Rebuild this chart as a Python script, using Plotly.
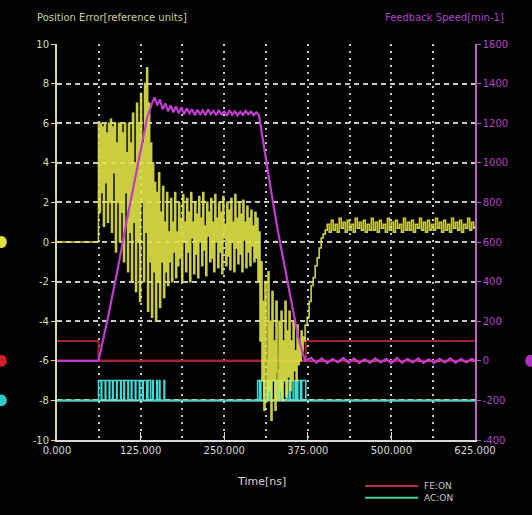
import plotly.graph_objects as go

# ---------------- data ----------------
X_TICKS = [0, 125, 250, 375, 500, 625]
X_TICK_TEXT = ["0.000", "125.000", "250.000", "375.000", "500.000", "625.000"]
Y_TICKS = [10, 8, 6, 4, 2, 0, -2, -4, -6, -8, -10]
Y2_TICKS = [1600, 1400, 1200, 1000, 800, 600, 400, 200, 0, -200, -400]
LEGEND_NAMES = ["FE:ON", "AC:ON"]

# Position error [reference units] (time in ns)
T_ERR = [0, 61,
         62, 63.5, 65, 66.5, 68, 69.5, 71, 72.5, 74, 75.5, 77, 78.5, 80, 81.5, 83, 84.5, 86, 87.5,
         89, 90.5, 92, 93.5, 95, 96.5, 98, 99.5, 101, 102.5, 104, 105.5, 107, 108.5, 110, 111.5,
         113, 114.5, 116, 117.5, 119, 120.5, 122, 123.5, 125, 126.5, 128, 129.5, 131, 132.5, 134,
         135.5, 137, 138.5, 140, 141.5, 143, 144.5, 146, 147.5, 149, 150.5, 152, 153.5, 155, 156.5,
         158, 159.5, 161, 162.5, 164, 165.5, 167, 168.5, 170, 171.5, 173, 174.5, 176, 177.5, 179,
         180.5, 182, 183.5, 185, 186.5, 188, 189.5, 191, 192.5, 194, 195.5, 197, 198.5, 200, 201.5,
         203, 204.5, 206, 207.5, 209, 210.5, 212, 213.5, 215, 216.5, 218, 219.5, 221, 222.5, 224,
         225.5, 227, 228.5, 230, 231.5, 233, 234.5, 236, 237.5, 239, 240.5, 242, 243.5, 245, 246.5,
         248, 249.5, 251, 252.5, 254, 255.5, 257, 258.5, 260, 261.5, 263, 264.5, 266, 267.5, 269,
         270.5, 272, 273.5, 275, 276.5, 278, 279.5, 281, 282.5, 284, 285.5, 287, 288.5, 290, 291.5,
         293, 294.5, 296, 297.5, 299,
         300.5, 302, 303.5, 305, 306.5, 308, 309.5, 311, 312.5, 314, 315.5, 317, 318.5, 320, 321.5,
         323, 324.5, 326, 327.5, 329, 330.5, 332, 333.5, 335, 336.5, 338, 339.5, 341, 342.5, 344,
         345.5, 347, 348.5, 350, 351.5, 353, 354.5, 356, 357.5, 359, 360.5, 362, 363.5, 365, 366.5,
         368, 369.5,
         371, 374, 377, 380, 383, 386, 389, 392, 395, 398, 401,
         404, 407, 410, 413, 416, 419, 422, 425, 428, 431, 434, 437, 440, 443, 446, 449, 452, 455,
         458, 461, 464, 467, 470, 473, 476, 479, 482, 485, 488, 491, 494, 497, 500, 503, 506, 509,
         512, 515, 518, 521, 524, 527, 530, 533, 536, 539, 542, 545, 548, 551, 554, 557, 560, 563,
         566, 569, 572, 575, 578, 581, 584, 587, 590, 593, 596, 599, 602, 605, 608, 611, 614, 617,
         620, 623, 625]
V_ERR = [0, 0,
         6, 1.5, 6, 2.5, 5.8, 0.8, 6, 3, 5.5, 1, 6, 2, 6.2, 0.5, 5.8, 3.5, 6, -0.5,
         5, 2, 6, 0, 6, 1.5, 5.5, -1, 6, 2.5, 4.5, -1.5, 6, 0.5, 5, -2,
         6.5, 1, 4, -2.5, 7, 0, 6, -3, 7.5, 2, 5, -2, 8, 0.5, 8.8,
         -3.5, 7, -1, 5, -3.8, 4, -1.5, 3, -4, 2.5, -2, 3.5, -3.3, 1.5, -1,
         2.8, -2.8, 1, -1.5, 2.5, -2.2, 0.5, -1, 2.2, -2, 1, -0.5, 2.5, -1.8, 0.5,
         -1.2, 2, -0.8, 1.2, -2, 2.4, 0, 1, -1.5, 2.2, -0.5, 1.5, -2, 2.5, 0.2,
         1, -1.6, 2, -0.6, 1.4, -1.8, 2.3, 0, 1.2, -1.2, 2.5, -0.4, 0.8, -1.7, 2,
         0.3, 1.5, -1, 2.2, -0.8, 1, -1.5, 2.4, 0, 1.2, -1.3, 2, -0.5, 1.5, -1.6,
         2.3, 0.2, 0.9, -1.2, 2, -0.7, 1.6, -1.4, 2.2, 0, 1, -1.5, 2.4, -0.3, 1.2,
         -1.1, 2, -0.6, 1.4, -1.5, 2.1, 0.1, 1, -1.3, 1.8, -0.5, 1.2, -1.2, 1.6, -0.2,
         0.8, -1, 1.5, -0.8, 1.2,
         -2, 0.5, -5, -1, -7, -3, -8.5, -2, -6, -8, -1.5, -7.5, -4, -9, -2.5,
         -7, -5, -8.5, -3, -6.5, -8, -4, -7.5, -3.5, -8, -5, -7, -3, -7.8, -4.5,
         -6.8, -3.5, -7.5, -5, -7, -4, -6.5, -5.5, -7, -4.2, -6.2, -5.2, -6, -4.5, -5.5,
         -4.8, -5,
         -4.2, -3.8, -3, -2.2, -1.8, -1.2, -0.8, -0.3, 0.2, 0.4, 0.6,
         0.9, 0.5, 1.1, 0.6, 0.9, 0.5, 1.2, 0.7, 1, 0.5, 1.1, 0.6, 0.9, 0.5, 1.2, 0.7, 1, 0.6,
         1.1, 0.5, 0.9, 0.6, 1.2, 0.6, 1, 0.5, 1.1, 0.7, 0.9, 0.5, 1.2, 0.6, 1, 0.5, 1.1, 0.7,
         0.9, 0.5, 1.2, 0.6, 1, 0.6, 1.1, 0.5, 0.9, 0.7, 1.2, 0.6, 1, 0.5, 1.1, 0.6, 0.9, 0.6,
         1.2, 0.7, 1, 0.5, 1.1, 0.6, 0.9, 0.5, 1.2, 0.7, 1, 0.6, 1.1, 0.5, 0.9, 0.7, 1.2, 0.6,
         1, 0.7, 0.8]

# Feedback speed [min-1]
T_SPD = [0, 62, 75, 90, 105, 120, 135, 142,
         146, 150, 154, 158, 162, 166, 170, 174, 178, 182, 186, 190, 194, 198, 202, 206, 210,
         214, 218, 222, 226, 230, 234, 238, 242, 246, 250, 254, 258, 262, 266, 270, 274, 278,
         282, 286, 290, 294, 298, 302,
         310, 320, 330, 340, 350, 360, 368, 372,
         380, 388, 396, 404, 412, 420, 428, 436, 444, 452, 460, 468, 476, 484, 492, 500, 508,
         516, 524, 532, 540, 548, 556, 564, 572, 580, 588, 596, 604, 612, 620, 625]
V_SPD = [0, 0, 200, 450, 720, 980, 1230, 1300,
         1330, 1290, 1320, 1270, 1300, 1260, 1290, 1255, 1285, 1250, 1280, 1245, 1275, 1250, 1270, 1240, 1268,
         1245, 1265, 1240, 1270, 1245, 1262, 1240, 1266, 1244, 1260, 1238, 1265, 1242, 1260, 1240, 1258, 1242,
         1262, 1245, 1258, 1240, 1255, 1240,
         1060, 860, 660, 480, 300, 130, 30, 0,
         15, -10, 12, -12, 10, -8, 14, -10, 12, -12, 8, -10, 12, -8, 10, -12, 14,
         -10, 10, -8, 12, -10, 8, -12, 10, -8, 12, -10, 10, -8, 10, 0]

# Red digital signal (level -5 = ON, -6 = OFF)
T_FE = [0, 62, 372, 625]
V_FE = [-5, -6, -5, -5]

# Cyan digital signal (level -7 = ON, -8 = OFF)
T_AC = [0, 62, 66, 67, 72, 73, 78, 79, 83, 84, 89, 90, 95, 96, 100, 101, 106, 107, 111, 112,
        117, 118, 123, 124, 128, 129, 134, 136, 140, 143, 144, 149, 150, 153, 154, 160, 161,
        300, 303, 305, 309, 310, 314, 316, 318, 320, 326, 328, 330, 333, 335, 337, 343, 344,
        347, 349, 353, 356, 358, 360, 364, 366, 372, 373, 625]
V_AC = [-8, -7, -8, -7, -8, -7, -8, -7, -8, -7, -8, -7, -8, -7, -8, -7, -8, -7, -8, -7,
        -8, -7, -8, -7, -8, -7, -8, -7, -8, -7, -8, -7, -8, -7, -8, -7, -8,
        -7, -8, -7, -8, -7, -8, -7, -8, -7, -8, -7, -8, -7, -8, -7, -8, -7,
        -8, -7, -8, -7, -8, -7, -8, -7, -8, -8, -8]

FE_BASE = -6
AC_BASE = -8

# ---------------- figure ----------------
YELLOW = "#e2e448"
MAGENTA = "#c03cd0"
RED = "#c8202e"
CYAN = "#40dcd8"
LEG_RED = "#c03040"
LEG_CYAN = "#48d0a8"
GRID = "#c8c8c8"

fig = go.Figure()

fig.add_trace(go.Scatter(x=[0, 625], y=[AC_BASE, AC_BASE], mode="lines",
                         line=dict(color="#a8e0c8", width=2), showlegend=False, hoverinfo="skip"))
fig.add_trace(go.Scatter(x=[0, 625], y=[FE_BASE, FE_BASE], mode="lines",
                         line=dict(color=RED, width=2), showlegend=False, hoverinfo="skip"))
fig.add_trace(go.Scatter(x=T_AC, y=V_AC, mode="lines", line=dict(color=CYAN, width=1.5, shape="hv"),
                         showlegend=False))
fig.add_trace(go.Scatter(x=T_FE, y=V_FE, mode="lines", line=dict(color="#a82030", width=2, shape="hv"),
                         showlegend=False))
fig.add_trace(go.Scatter(x=T_SPD, y=V_SPD, mode="lines", yaxis="y2",
                         line=dict(color=MAGENTA, width=2.2), showlegend=False))
fig.add_trace(go.Scatter(x=T_ERR, y=V_ERR, mode="lines",
                         line=dict(color=YELLOW, width=1.6, shape="hv"), opacity=0.9, showlegend=False))

FONT = "DejaVu Sans"

fig.update_layout(
    width=532, height=515,
    margin=dict(l=57, r=57, t=44, b=75),
    paper_bgcolor="black", plot_bgcolor="black",
    font=dict(family=FONT, size=10, color="#d0d0d0"),
    showlegend=False,
    xaxis=dict(range=[0, 625], tickvals=X_TICKS, ticktext=X_TICK_TEXT,
               showgrid=True, gridcolor=GRID, griddash="2px,5px", gridwidth=1.5,
               minor=dict(dtick=62.5, tick0=0, showgrid=True, gridcolor=GRID, griddash="2px,5px",
                          gridwidth=1.5),
               showline=True, linecolor="#d8d8d8", linewidth=2,
               ticks="inside", ticklen=8, tickcolor="#d8d8d8", tickwidth=1,
               tickfont=dict(size=10, color="#d8d8d8"), zeroline=False, fixedrange=True),
    yaxis=dict(range=[-10, 10], tickvals=Y_TICKS, ticktext=[str(v) for v in Y_TICKS],
               showgrid=True, gridcolor=GRID, griddash="5px,4px", gridwidth=1.5,
               showline=True, linecolor="#d4d8a0", linewidth=2,
               ticks="outside", ticklen=4, tickcolor="#d4d8a0",
               tickfont=dict(size=10, color="#d8dcb0"), zeroline=False, fixedrange=True),
    yaxis2=dict(range=[-400, 1600], tickvals=Y2_TICKS, ticktext=[str(v) for v in Y2_TICKS],
                overlaying="y", side="right", showgrid=False, zeroline=False,
                showline=True, linecolor="#b868c0", linewidth=1.5,
                ticks="outside", ticklen=4, tickcolor="#b050c0",
                tickfont=dict(size=10, color="#b844c8"), fixedrange=True),
    annotations=[
        dict(text="Position Error[reference units]", xref="paper", yref="paper",
             x=-0.053, y=1.068, xanchor="left", yanchor="middle", showarrow=False,
             font=dict(size=10, color="#c8d490", family=FONT)),
        dict(text="Feedback Speed[min-1]", xref="paper", yref="paper",
             x=1.074, y=1.068, xanchor="right", yanchor="middle", showarrow=False,
             font=dict(size=10, color="#b040c8", family=FONT)),
        dict(text="Time[ns]", xref="paper", yref="paper",
             x=0.49, y=-0.106, xanchor="center", yanchor="middle", showarrow=False,
             font=dict(size=11, color="#d8d8d8", family=FONT)),
        dict(text=LEGEND_NAMES[0], xref="paper", yref="paper",
             x=0.873, y=-0.116, xanchor="left", yanchor="middle", showarrow=False,
             font=dict(size=9, color="#c8c8c8", family=FONT)),
        dict(text=LEGEND_NAMES[1], xref="paper", yref="paper",
             x=0.873, y=-0.146, xanchor="left", yanchor="middle", showarrow=False,
             font=dict(size=9, color="#c8c8c8", family=FONT)),
    ],
    shapes=[
        dict(type="line", xref="paper", yref="paper", x0=0.737, x1=0.864, y0=-0.116, y1=-0.116,
             line=dict(color=LEG_RED, width=2)),
        dict(type="line", xref="paper", yref="paper", x0=0.737, x1=0.864, y0=-0.146, y1=-0.146,
             line=dict(color=LEG_CYAN, width=2)),
        dict(type="circle", xref="paper", yref="y", x0=-0.145, x1=-0.12, y0=-0.3, y1=0.3,
             fillcolor="#e0e040", line=dict(width=0)),
        dict(type="circle", xref="paper", yref="y", x0=-0.145, x1=-0.12, y0=-6.3, y1=-5.7,
             fillcolor="#d02030", line=dict(width=0)),
        dict(type="circle", xref="paper", yref="y", x0=-0.145, x1=-0.12, y0=-8.3, y1=-7.7,
             fillcolor="#30c8d0", line=dict(width=0)),
        dict(type="circle", xref="paper", yref="y", x0=1.12, x1=1.145, y0=-6.3, y1=-5.7,
             fillcolor="#b030c0", line=dict(width=0)),
    ],
)

fig.write_html("out.html")
